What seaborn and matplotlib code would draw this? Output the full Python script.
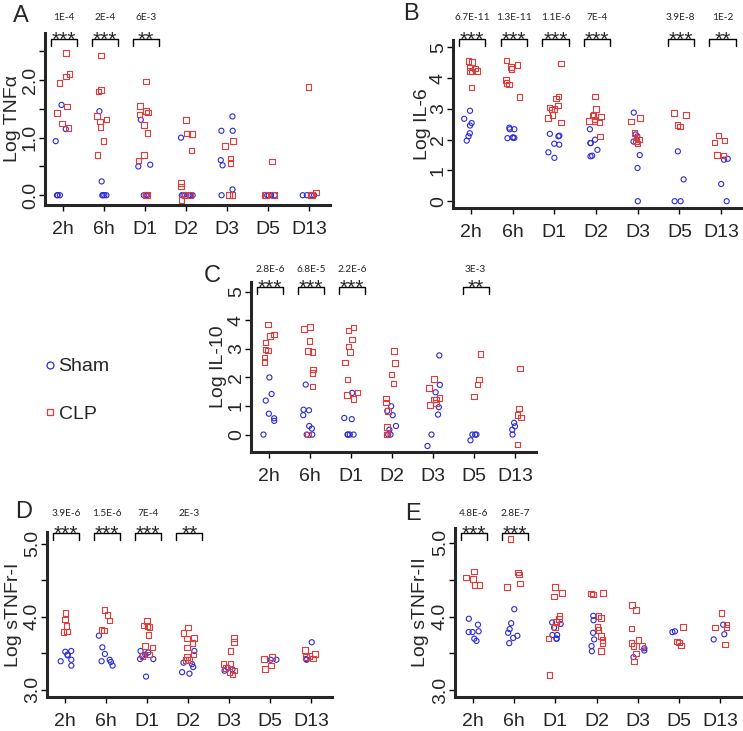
import numpy as np
import pandas as pd
import seaborn as sns
import matplotlib.pyplot as plt
from matplotlib.transforms import blended_transform_factory
from matplotlib.lines import Line2D

times = ["2h", "6h", "D1", "D2", "D3", "D5", "D13"]

# A: Log TNFa
tnf_sham = [[1.57, 1.15, 0.94, 0, 0, 0],
            [1.46, 0.24, 0, 0, 0, 0],
            [1.31, 0.53, 0.50, 0, 0, 0],
            [1.00, 0, 0, 0, 0, 0],
            [1.37, 1.12, 1.12, 0.61, 0.52, 0.10, 0],
            [0, 0, 0, 0],
            [0, 0, 0, 0]]
tnf_clp = [[2.47, 2.11, 2.06, 1.95, 1.54, 1.43, 1.25, 1.17],
           [2.43, 1.83, 1.80, 1.38, 1.32, 1.28, 1.19, 0.94, 0.70],
           [1.98, 1.55, 1.46, 1.44, 1.40, 1.22, 1.08, 0.70, 0.60, 0, 0],
           [1.31, 1.06, 1.07, 0.78, 0.21, 0.15, 0, 0, -0.08],
           [0.94, 0.86, 0.64, 0.56, 0, 0],
           [0.59, 0, 0, 0],
           [1.88, 0.05, 0, 0]]
tnf_p = ["1E-4", "2E-4", "6E-3", "", "", "", ""]
tnf_stars = ["***", "***", "**", "", "", "", ""]

# B: Log IL-6
il6_sham = [[2.94, 2.68, 2.54, 2.46, 2.21, 2.11, 1.97],
            [2.34, 2.34, 2.39, 2.06, 2.07, 2.05, 2.07],
            [2.19, 2.11, 2.13, 1.87, 1.84, 1.59, 1.41],
            [2.34, 2.00, 1.89, 1.89, 1.67, 1.48, 1.46],
            [2.88, 2.17, 2.11, 1.94, 1.50, 1.08, 0],
            [1.62, 0.71, 0, 0],
            [1.35, 1.38, 0.56, 0]]
il6_clp = [[4.56, 4.52, 4.24, 4.35, 4.32, 4.21, 4.23, 3.69],
           [4.58, 4.37, 4.43, 4.30, 3.94, 3.80, 3.84, 3.39],
           [4.48, 3.40, 3.34, 3.11, 3.05, 2.98, 2.99, 2.81, 2.70, 2.56],
           [3.40, 2.99, 2.81, 2.78, 2.65, 2.75, 2.56, 2.59, 2.61, 2.11],
           [2.21, 2.00, 2.59, 2.70, 1.94, 1.87, 2.07],
           [2.48, 2.43, 2.81, 2.87],
           [2.13, 1.91, 1.98, 1.49, 1.51]]
il6_p = ["6.7E-11", "1.3E-11", "1.1E-6", "7E-4", "", "3.9E-8", "1E-2"]
il6_stars = ["***", "***", "***", "***", "", "***", "**"]

# C: Log IL-10
il10_sham = [[2.00, 1.42, 1.19, 0.73, 0.57, 0.48, 0],
             [1.75, 0.87, 0.85, 0.68, 0.30, 0.21, 0, 0],
             [1.46, 0.58, 0.54, 0, 0, 0, 0],
             [0.99, 0.83, 0.68, 0.30, 0.17, 0, 0],
             [2.77, 1.74, 1.48, 0.96, 0.70, 0, -0.40],
             [0, 0, 0, -0.20],
             [0.41, 0.29, 0.17, 0]]
il10_clp = [[3.85, 3.50, 3.45, 3.22, 2.98, 2.94, 2.69, 2.54],
            [3.76, 3.69, 3.28, 2.93, 2.89, 2.28, 2.16, 1.69, 0],
            [3.74, 3.65, 3.32, 3.09, 2.89, 2.52, 1.93, 1.48, 1.38, 1.25],
            [2.93, 2.51, 2.11, 1.78, 1.27, 1.12, 0.83, 0.27, 0, 0],
            [1.95, 1.63, 1.28, 1.22, 1.22, 1.11, 1.03],
            [2.82, 1.93, 1.76, 1.34],
            [2.32, 0.92, 0.69, 0.59, -0.34]]
il10_p = ["2.8E-6", "6.8E-5", "2.2E-6", "", "", "3E-3", ""]
il10_stars = ["***", "***", "***", "", "", "**", ""]

# D: Log sTNFr-I
r1_sham = [[3.53, 3.52, 3.41, 3.47, 3.48, 3.39, 3.33],
           [3.74, 3.58, 3.49, 3.41, 3.39, 3.38, 3.33],
           [3.46, 3.51, 3.42, 3.48, 3.53, 3.42, 3.18],
           [3.53, 3.35, 3.31, 3.37, 3.24, 3.22],
           [3.26, 3.28, 3.30],
           [3.41, 3.41],
           [3.65, 3.42, 3.41]]
r1_clp = [[4.05, 3.96, 3.87, 3.79, 3.80],
          [4.09, 4.02, 3.95, 3.82, 3.81],
          [3.94, 3.86, 3.88, 3.87, 3.75, 3.58, 3.60, 3.48, 3.46],
          [3.85, 3.78, 3.71, 3.70, 3.64, 3.58, 3.48, 3.45, 3.41, 3.41],
          [3.71, 3.65, 3.53, 3.35, 3.35, 3.30, 3.21, 3.26, 3.24],
          [3.45, 3.42, 3.33, 3.28],
          [3.43, 3.46, 3.49, 3.54, 3.45]]
r1_p = ["3.9E-6", "1.5E-6", "7E-4", "2E-3", "", "", ""]
r1_stars = ["***", "***", "***", "**", "", "", ""]

# E: Log sTNFr-II
r2_sham = [[3.97, 3.89, 3.79, 3.80, 3.79, 3.70, 3.67],
           [4.10, 3.91, 3.83, 3.78, 3.74, 3.71, 3.64],
           [3.90, 3.92, 3.85, 3.75, 3.75, 3.70, 3.70],
           [4.01, 3.95, 3.78, 3.69, 3.60, 3.53],
           [3.57, 3.54, 3.45],
           [3.79, 3.80],
           [3.89, 3.76, 3.69]]
r2_clp = [[4.61, 4.53, 4.51, 4.43, 4.43],
          [5.05, 4.60, 4.57, 4.45, 4.40],
          [4.40, 4.32, 4.27, 4.01, 3.93, 3.97, 3.86, 3.70, 3.21],
          [4.31, 4.30, 4.32, 4.01, 3.98, 3.86, 3.82, 3.74, 3.68, 3.64, 3.53],
          [4.16, 4.09, 3.84, 3.68, 3.60, 3.64, 3.60, 3.50, 3.39],
          [3.86, 3.66, 3.61, 3.65],
          [4.05, 3.89, 3.85, 3.85, 3.62]]
r2_p = ["4.8E-6", "2.8E-7", "", "", "", "", ""]
r2_stars = ["***", "***", "", "", "", "", ""]

BLUE = "#2b2bd9"
RED = "#e23b3b"
W, H = 743, 731

sns.set_style("ticks")
plt.rcParams["font.family"] = ["Liberation Sans", "DejaVu Sans"]

fig = plt.figure(figsize=(W / 100, H / 100), dpi=100)


def long_table(sham, clp):
    rows = []
    for t, vals in zip(times, sham):
        rows += [(t, v, "Sham") for v in vals]
    for t, vals in zip(times, clp):
        rows += [(t, v, "CLP") for v in vals]
    return pd.DataFrame(rows, columns=["time", "value", "group"])


def draw_panel(box, letter, letter_xy, sham, clp, ylabel, ylab_off, ylim,
               yticks, yticklabels, pvals, stars, brk_px, p_px, seed):
    l, t, r, b = box
    ax = fig.add_axes([l / W, 1 - b / H, (r - l) / W, (b - t) / H])
    df = long_table(sham, clp)
    np.random.seed(seed)
    for grp, mk, col, sz in [("Sham", "o", BLUE, 3.7), ("CLP", "s", RED, 4.0)]:
        n0 = len(ax.collections)
        sns.stripplot(data=df[df.group == grp], x="time", y="value", order=times,
                      marker=mk, size=sz, jitter=0.17, color=col, ax=ax)
        for c in ax.collections[n0:]:
            c.set_facecolor("none")
            c.set_edgecolor(col)
            c.set_linewidth(0.8)

    ax.set_xlim(-0.43, 6.5)
    ax.set_ylim(*ylim)
    ax.set_yticks(yticks)
    ax.set_yticklabels(yticklabels, rotation=90, va="center")
    ax.set_xlabel("")
    ax.set_ylabel(ylabel, fontsize=14)
    ax.yaxis.set_label_coords(ylab_off / (r - l), 0.5)
    for s in ["top", "right"]:
        ax.spines[s].set_visible(False)
    for s in ["left", "bottom"]:
        ax.spines[s].set_linewidth(2.2)
        ax.spines[s].set_capstyle("projecting")
    ax.tick_params(length=4.5, width=1, labelsize=14, color="black")
    ax.tick_params(axis="x", pad=7)
    ax.tick_params(axis="y", pad=0)

    # significance brackets above the plot
    tr = blended_transform_factory(ax.transData, fig.transFigure)
    y_line = 1 - brk_px / H
    y_leg = 1 - (brk_px + 6.5) / H
    for i, (p, st) in enumerate(zip(pvals, stars)):
        if not st:
            continue
        xc = i + 0.03
        ax.plot([xc - 0.315, xc - 0.315, xc + 0.315, xc + 0.315],
                [y_leg, y_line, y_line, y_leg], transform=tr, color="black",
                lw=1.0, clip_on=False)
        ax.text(xc, 1 - (brk_px + 7) / H, st, transform=tr, ha="center",
                va="baseline", fontsize=15, clip_on=False)
        ax.text(xc, 1 - p_px / H, p, transform=tr, ha="center", va="center",
                fontsize=7.3, family=["Lato", "DejaVu Sans"], clip_on=False)

    fig.text(letter_xy[0] / W, 1 - letter_xy[1] / H, letter, fontsize=17,
             ha="left", va="baseline")
    return ax


draw_panel((45, 33, 330, 205), "A", (13, 22), tnf_sham, tnf_clp, "Log TNFα", -24,
           (-0.17, 2.82), [0, 0.5, 1, 1.5, 2, 2.5], ["0.0", "", "1.0", "", "2.0", ""],
           tnf_p, tnf_stars, 39, 18, 1)
draw_panel((453, 40, 742, 208), "B", (403, 20), il6_sham, il6_clp, "Log IL-6", -22,
           (-0.22, 5.24), [0, 1, 2, 3, 4, 5], ["0", "1", "2", "3", "4", "5"],
           il6_p, il6_stars, 39, 18, 2)
draw_panel((251, 282, 536, 452), "C", (204, 282), il10_sham, il10_clp, "Log IL-10", -24,
           (-0.61, 5.34), [0, 1, 2, 3, 4, 5], ["0", "1", "2", "3", "4", "5"],
           il10_p, il10_stars, 287, 269, 3)
draw_panel((47, 532, 332, 697), "D", (15, 518), r1_sham, r1_clp, "Log sTNFr-I", -25,
           (2.90, 5.16), [3, 3.5, 4, 4.5, 5], ["3.0", "", "4.0", "", "5.0"],
           r1_p, r1_stars, 533, 513, 4)
draw_panel((455, 528, 741, 697), "E", (405, 520), r2_sham, r2_clp, "Log sTNFr-II", -26,
           (2.91, 5.20), [3, 3.5, 4, 4.5, 5], ["3.0", "", "4.0", "", "5.0"],
           r2_p, r2_stars, 533, 513, 5)

handles = [Line2D([], [], ls="none", marker="o", ms=5, mfc="none", mec=BLUE, mew=0.9),
           Line2D([], [], ls="none", marker="s", ms=5, mfc="none", mec=RED, mew=0.9)]
fig.legend(handles, ["Sham", "CLP"], loc="center left",
           bbox_to_anchor=(44 / W, 1 - 390.5 / H), frameon=False, fontsize=14,
           handlelength=0.6, handletextpad=0.15, labelspacing=1.55,
           borderpad=0, borderaxespad=0)

fig.savefig("out.png", dpi=100)
